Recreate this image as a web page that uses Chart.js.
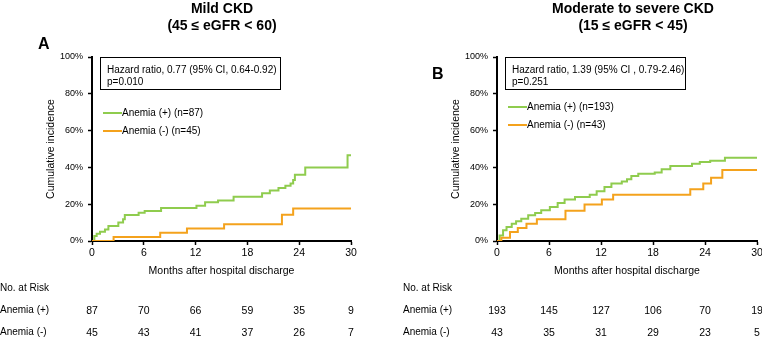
<!DOCTYPE html>
<html>
<head>
<meta charset="utf-8">
<script src="https://cdn.jsdelivr.net/npm/chart.js@4.4.1/dist/chart.umd.min.js"></script>
<style>
  html, body { margin: 0; padding: 0; background: #fff; overflow: hidden; }
  body { width: 762px; height: 337px; position: relative; font-family: Arial, "Liberation Sans", sans-serif; color: #000; }
  .panel { position: absolute; top: 0; height: 337px; }
  #panelA { left: 0; width: 381px; }
  #panelB { left: 381px; width: 389px; }
  .panel canvas { position: absolute; left: 0; top: 0; }
  .txt { position: absolute; white-space: nowrap; line-height: 12px; font-size: 10.5px; }
  .leg { font-size: 10px; }
  .title { position: absolute; top: 0; font-weight: bold; font-size: 14px; line-height: 17px; text-align: center; white-space: nowrap; transform: translateX(-50%); }
  .letter { position: absolute; font-weight: bold; font-size: 16px; line-height: 16px; }
  .hrbox { position: absolute; border: 1px solid #000; box-sizing: border-box; padding: 6px 0 0 6px; font-size: 10px; line-height: 12px; white-space: nowrap; background: #fff; }
  .legline { position: absolute; height: 2px; }
  .num { transform: translateX(-50%); }
</style>
</head>
<body>
<div class="panel" id="panelA"><canvas id="chartA" width="381" height="337"></canvas></div>
<div class="panel" id="panelB"><canvas id="chartB" width="389" height="337"></canvas></div>
<script>
// months shown on the x axis and used for the at-risk table
const riskMonths = [0, 6, 12, 18, 24, 30];

// Mild CKD, anemia (+)
const mildPlusT   = [0, 0.27, 0.54, 0.93, 1.5, 1.9, 3.05, 3.6, 3.8, 5.4, 6.1, 8.0, 12.1, 13.1, 14.6, 16.4, 19.7, 20.6, 21.6, 22.4, 23.0, 23.3, 23.5, 24.7, 29.6, 30];
const mildPlusPct = [0, 2.7, 4, 5, 6.3, 8.2, 10, 11.8, 14.1, 15.4, 16.3, 17.9, 19.2, 21, 22, 24.1, 25.9, 27.4, 28.8, 30, 31.3, 33.2, 36, 40, 46.6, 46.6];
// Mild CKD, anemia (-)
const mildMinusT   = [0, 2.5, 7.9, 11.0, 15.3, 22.0, 23.3, 30];
const mildMinusPct = [0, 2.2, 4.5, 6.8, 9.1, 14.3, 17.7, 17.7];

// Moderate to severe CKD, anemia (+)
const modPlusT   = [0, 0.3, 0.7, 1.1, 1.7, 2.2, 2.8, 3.6, 4.4, 5.1, 6.1, 7.0, 7.8, 9.0, 10.7, 11.5, 12.4, 13.2, 14.4, 15.0, 15.5, 16.3, 18.2, 19.0, 20.0, 22.5, 23.4, 24.6, 26.3, 30];
const modPlusPct = [0, 3, 5.8, 7.6, 9.4, 10.7, 12.1, 14, 15.2, 16.7, 18.5, 20.7, 22.6, 23.9, 25.2, 27, 29.3, 31.2, 32.4, 33.5, 35.3, 36.6, 37.2, 39, 40.8, 42, 43, 43.6, 45.2, 45.2];
// Moderate to severe CKD, anemia (-)
const modMinusT   = [0, 0.5, 1.5, 2.4, 3.4, 4.6, 7.9, 10.1, 12.1, 13.4, 22.3, 23.8, 24.7, 26.0, 30];
const modMinusPct = [0, 1.8, 4.9, 7.1, 9.4, 11.8, 16.5, 19.9, 22.6, 25.2, 28.1, 31.3, 34.4, 38.6, 38.6];

// numbers at risk
const mildRiskPlus  = [87, 70, 66, 59, 35, 9];
const mildRiskMinus = [45, 43, 41, 37, 26, 7];
const modRiskPlus   = [193, 145, 127, 106, 70, 19];
const modRiskMinus  = [43, 35, 31, 29, 23, 5];

const green = '#8fcc4e';
const orange = '#f4a21c';

function pts(t, p) {
  return t.map((x, i) => ({ x: x, y: p[i] }));
}

function addText(parent, cls, text, left, top) {
  const d = document.createElement('div');
  d.className = cls;
  d.textContent = text;
  d.style.left = left + 'px';
  d.style.top = top + 'px';
  parent.appendChild(d);
  return d;
}

function drawPanel(cfg) {
  const panel = document.getElementById(cfg.panel);
  const canvas = document.getElementById(cfg.canvas);

  const chart = new Chart(canvas, {
    type: 'line',
    data: {
      datasets: [
        {
          label: cfg.legend[0],
          data: pts(cfg.plusT, cfg.plusPct),
          borderColor: green,
          borderWidth: 2,
          stepped: 'before',
          pointRadius: 0,
          order: 1
        },
        {
          label: cfg.legend[1],
          data: pts(cfg.minusT, cfg.minusPct),
          borderColor: orange,
          borderWidth: 2,
          stepped: 'before',
          pointRadius: 0,
          order: 0
        }
      ]
    },
    options: {
      responsive: false,
      animation: false,
      events: [],
      layout: { padding: cfg.padding },
      plugins: {
        legend: { display: false },
        tooltip: { enabled: false }
      },
      scales: {
        x: {
          type: 'linear',
          min: 0,
          max: 30,
          ticks: { stepSize: 6, color: '#000', font: { size: 10.5, family: 'Arial' }, padding: 2, maxRotation: 0 },
          grid: { drawOnChartArea: false, drawTicks: true, tickLength: 4, tickColor: '#000', tickWidth: 1.5 },
          border: { color: '#000', width: 2 },
          title: { display: true, text: 'Months after hospital discharge', color: '#000', font: { size: 10.5, family: 'Arial' }, padding: { top: 4, bottom: 4 } },
          afterFit: s => { s.height = 40; }
        },
        y: {
          min: 0,
          max: 100,
          ticks: { stepSize: 20, color: '#000', font: { size: 9, family: 'Arial' }, padding: 5, callback: v => v + '%' },
          grid: { drawOnChartArea: false, drawTicks: true, tickLength: 4, tickColor: '#000', tickWidth: 1.5 },
          border: { color: '#000', width: 2 },
          title: { display: true, text: 'Cumulative incidence', color: '#000', font: { size: 10.5, family: 'Arial' }, padding: { top: 4, bottom: 4 } },
          afterFit: s => { s.width = 51; }
        }
      }
    }
  });

  // titles and panel letter
  const t = addText(panel, 'title', '', cfg.titleX, 0);
  t.innerHTML = cfg.title[0] + '<br>' + cfg.title[1];
  addText(panel, 'letter', cfg.letter, cfg.letterPos[0], cfg.letterPos[1]);

  // hazard ratio box
  const box = addText(panel, 'hrbox', '', cfg.box[0], cfg.box[1]);
  box.style.width = cfg.box[2] + 'px';
  box.style.height = cfg.box[3] + 'px';
  box.innerHTML = cfg.hr[0] + '<br>' + cfg.hr[1];

  // legend inside the plot
  [green, orange].forEach((c, i) => {
    const y = cfg.legendY[i];
    const ln = document.createElement('div');
    ln.className = 'legline';
    ln.style.background = c;
    ln.style.left = cfg.legendX + 'px';
    ln.style.width = '19px';
    ln.style.top = (y - 1) + 'px';
    panel.appendChild(ln);
    addText(panel, 'txt leg', cfg.legend[i], cfg.legendX + 19, y - 6);
  });

  // numbers at risk, aligned on the x scale
  const xs = chart.scales.x;
  addText(panel, 'txt', 'No. at Risk', cfg.tableX, 282).style.fontSize = '10px';
  addText(panel, 'txt', 'Anemia (+)', cfg.tableX, 304).style.fontSize = '10px';
  addText(panel, 'txt', 'Anemia (-)', cfg.tableX, 326).style.fontSize = '10px';
  riskMonths.forEach((m, i) => {
    const px = xs.getPixelForValue(m);
    addText(panel, 'txt num', String(cfg.riskPlus[i]), px, 304);
    addText(panel, 'txt num', String(cfg.riskMinus[i]), px, 326);
  });
}

drawPanel({
  panel: 'panelA', canvas: 'chartA',
  padding: { left: 41, top: 57, right: 30, bottom: 56 },
  title: ['Mild CKD', '(45 \u2264 eGFR < 60)'], titleX: 222,
  letter: 'A', letterPos: [38, 36],
  box: [100, 57, 181, 33],
  hr: ['Hazard ratio, 0.77 (95% CI, 0.64-0.92)', 'p=0.010'],
  legend: ['Anemia (+) (n=87)', 'Anemia (-) (n=45)'],
  legendX: 103, legendY: [113, 131],
  plusT: mildPlusT, plusPct: mildPlusPct, minusT: mildMinusT, minusPct: mildMinusPct,
  riskPlus: mildRiskPlus, riskMinus: mildRiskMinus, tableX: 0
});

drawPanel({
  panel: 'panelB', canvas: 'chartB',
  padding: { left: 65, top: 57, right: 13, bottom: 56 },
  title: ['Moderate to severe CKD', '(15 \u2264 eGFR < 45)'], titleX: 252,
  letter: 'B', letterPos: [51, 66],
  box: [124, 57, 181, 33],
  hr: ['Hazard ratio, 1.39 (95% CI , 0.79-2.46)', 'p=0.251'],
  legend: ['Anemia (+) (n=193)', 'Anemia (-) (n=43)'],
  legendX: 127, legendY: [107, 125],
  plusT: modPlusT, plusPct: modPlusPct, minusT: modMinusT, minusPct: modMinusPct,
  riskPlus: modRiskPlus, riskMinus: modRiskMinus, tableX: 22
});
</script>
</body>
</html>
